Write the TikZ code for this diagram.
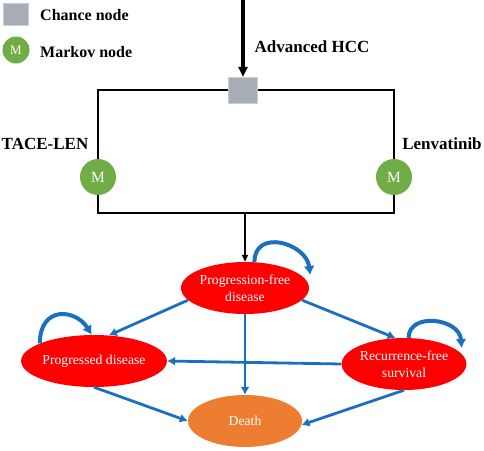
\documentclass[tikz,border=0pt]{standalone}
\usepackage{fontspec}
\setmainfont{Liberation Serif}
\usepackage{tikz}
\usetikzlibrary{arrows.meta,positioning,calc,shapes.geometric}
\definecolor{chancegray}{HTML}{A8AEB6}
\definecolor{markovgreen}{HTML}{70AD47}
\definecolor{statered}{HTML}{FF0000}
\definecolor{deathorange}{HTML}{ED7D31}
\definecolor{flowblue}{HTML}{1B6FC0}

\begin{document}
\begin{tikzpicture}[x=1pt,y=-1pt]
\tikzset{chance/.style={draw=chancegray!60!white,fill=chancegray,minimum width=29pt,minimum height=26pt,inner sep=0pt}}
\tikzset{markov/.style={circle,fill=markovgreen,text=white,minimum size=36pt,inner sep=0pt,font=\fontsize{15.5}{17}\selectfont}}
\tikzset{state/.style={ellipse,fill=statered,text=white,minimum width=114pt,minimum height=52pt,inner sep=0pt,align=center,font=\fontsize{13.7}{16.5}\selectfont}}
\tikzset{legendtext/.style={anchor=west,inner sep=0pt,font=\fontsize{16}{18}\selectfont\bfseries}}
\tikzset{armtext/.style={inner sep=0pt,font=\fontsize{17}{19}\selectfont\bfseries}}
\tikzset{tree/.style={draw,line width=1.5pt}}
\tikzset{bigarrow/.style={draw,line width=3.2pt,-{Triangle[length=10pt,width=9pt]}}}
\tikzset{flow/.style={draw=flowblue,line width=2.8pt,-{Latex[length=8pt,width=9pt]}}}
\tikzset{selfloop/.style={draw=flowblue,line width=4pt,-{Latex[length=9pt,width=11pt]}}}
\useasboundingbox (0,0) rectangle (484,450);
% legend
\node[chance,minimum width=25pt,minimum height=22pt] (legchance) at (15.5,14) {};
\node[legendtext] (legchancetext) at (40,15) {Chance node};
\node[markov,minimum size=27pt,font=\fontsize{13}{14}\selectfont] (legmarkov) at (16,50) {M};
\node[legendtext] (legmarkovtext) at (40,52) {Markov node};
% decision part
\coordinate (start) at (243,0);
\node[chance] (hcc) at (243,90) {};
\node[armtext] (hcclabel) at (312,47) {Advanced HCC};
\node[markov] (tace) at (98,177) {M};
\node[markov] (lenv) at (394,177) {M};
\node[armtext] (tacelabel) at (45,144) {TACE-LEN};
\node[armtext] (lenvlabel) at (442,144) {Lenvatinib};
\coordinate (join) at (245,213);
\draw[bigarrow] (start) -- (hcc.north);
\draw[tree] (hcc.west) -| (tace.north);
\draw[tree] (hcc.east) -| (lenv.north);
\draw[tree] (tace.south) |- (join) -| (lenv.south);
% markov states
\node[state] (pfd) at (245,288) {Progression-free\\disease};
\node[state] (pd) at (94,361) {Progressed disease};
\node[state] (rfs) at (404,364) {Recurrence-free\\survival};
\node[state,fill=deathorange] (death) at (245,421) {Death};
\draw[bigarrow,line width=2.2pt,-{Triangle[length=7pt,width=6pt]}] (join) -- (pfd.north);
\draw[flow] (pfd.192) -- (pd.60);
\draw[flow] (pfd.348) -- (rfs.108);
\draw[flow] (pfd.south) -- (death.north);
\draw[flow] (rfs.west) -- (pd.east);
\draw[flow] (pd.south) -- (death.west);
\draw[flow] (rfs.south) -- (death.356);
\draw[selfloop] (pfd.70) .. controls +(0,-34) and +(-4,-32) .. ($(pfd.east)+(1,-13)$);
\draw[selfloop] (pd.162) .. controls +(0,-38) and +(-16,-26) .. (pd.95);
\draw[selfloop] (rfs.80) .. controls +(0,-26) and +(-2,-30) .. ($(rfs.east)+(-5,-16)$);
\end{tikzpicture}
\end{document}
